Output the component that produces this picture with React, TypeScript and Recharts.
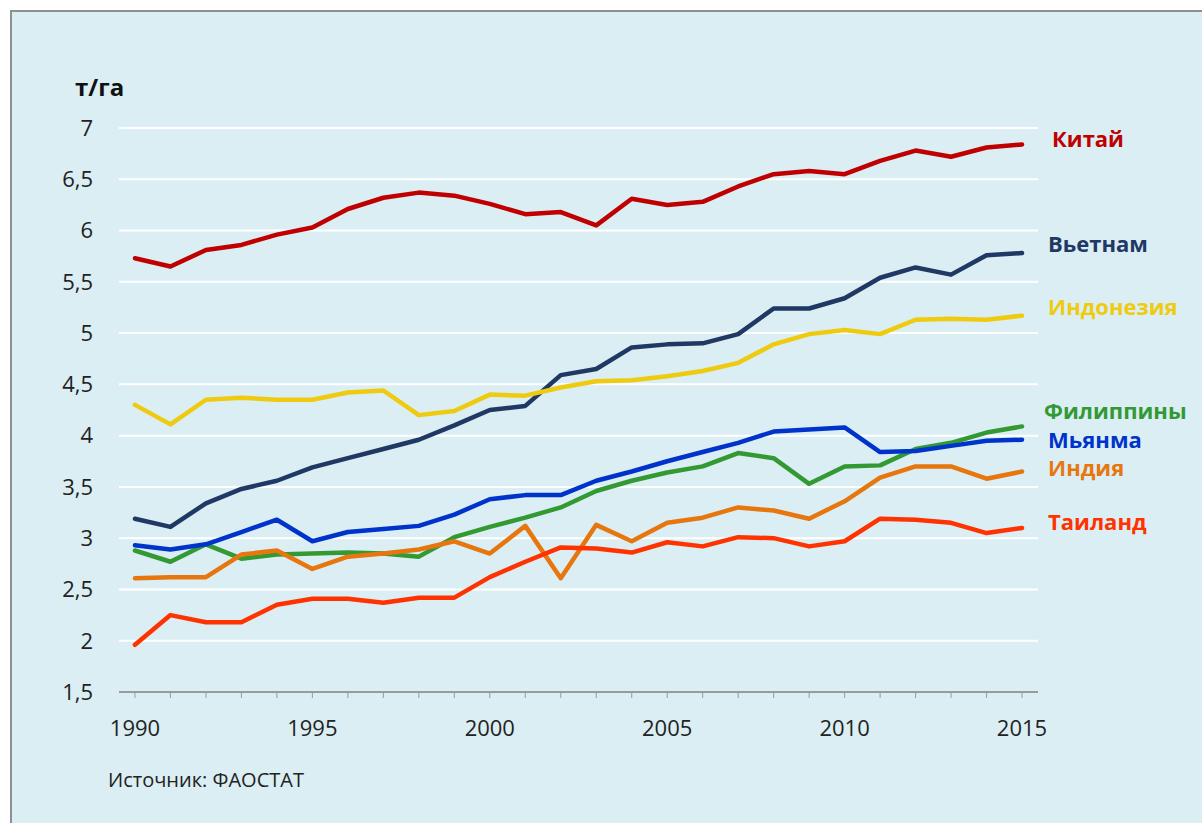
import React from "react";
import { LineChart, Line, XAxis, YAxis, CartesianGrid, LabelList } from "recharts";

const years = [1990,1991,1992,1993,1994,1995,1996,1997,1998,1999,2000,2001,2002,2003,2004,2005,2006,2007,2008,2009,2010,2011,2012,2013,2014,2015];
const china = [5.73,5.65,5.81,5.86,5.96,6.03,6.21,6.32,6.37,6.34,6.26,6.16,6.18,6.05,6.31,6.25,6.28,6.43,6.55,6.58,6.55,6.68,6.78,6.72,6.81,6.84];
const vietnam = [3.19,3.11,3.34,3.48,3.56,3.69,3.78,3.87,3.96,4.10,4.25,4.29,4.59,4.65,4.86,4.89,4.90,4.99,5.24,5.24,5.34,5.54,5.64,5.57,5.76,5.78];
const indonesia = [4.30,4.11,4.35,4.37,4.35,4.35,4.42,4.44,4.20,4.24,4.40,4.39,4.47,4.53,4.54,4.58,4.63,4.71,4.89,4.99,5.03,4.99,5.13,5.14,5.13,5.17];
const philippines = [2.88,2.77,2.94,2.80,2.84,2.85,2.86,2.85,2.82,3.01,3.11,3.20,3.30,3.46,3.56,3.64,3.70,3.83,3.78,3.53,3.70,3.71,3.87,3.93,4.03,4.09];
const myanmar = [2.93,2.89,2.94,3.06,3.18,2.97,3.06,3.09,3.12,3.23,3.38,3.42,3.42,3.56,3.65,3.75,3.84,3.93,4.04,4.06,4.08,3.84,3.85,3.90,3.95,3.96];
const india = [2.61,2.62,2.62,2.84,2.88,2.70,2.82,2.85,2.89,2.97,2.85,3.12,2.61,3.13,2.97,3.15,3.20,3.30,3.27,3.19,3.36,3.59,3.70,3.70,3.58,3.65];
const thailand = [1.96,2.25,2.18,2.18,2.35,2.41,2.41,2.37,2.42,2.42,2.62,2.77,2.91,2.90,2.86,2.96,2.92,3.01,3.00,2.92,2.97,3.19,3.18,3.15,3.05,3.10];

const yTicks = [1.5,2,2.5,3,3.5,4,4.5,5,5.5,6,6.5,7];
const xTickLabels = [1990,1995,2000,2005,2010,2015];

const seriesNames = ["Китай","Вьетнам","Индонезия","Филиппины","Мьянма","Индия","Таиланд"];
const seriesValues = [china, vietnam, indonesia, philippines, myanmar, india, thailand];
const seriesColors = ["#C00000","#1F3864","#EFCB0F","#339933","#0033CC","#E8760E","#FF3300"];
const labelDy = [-5,-9,-8,-15,1,-3,-6];
const labelDx = [30,26,26,22,26,26,26];

const data = years.map((y, i) => {
  const row: any = { year: y };
  seriesNames.forEach((n, k) => { row["s" + k] = seriesValues[k][i]; });
  return row;
});

const FONT = "'Open Sans', 'Liberation Sans', sans-serif";

const makeLabel = (k: number) => (props: any) => {
  const { x, y, index } = props;
  if (index !== years.length - 1) return null;
  return (
    <text x={x + labelDx[k]} y={y + labelDy[k]} dy="0.35em" fill={seriesColors[k]}
      fontFamily={FONT} fontWeight={700} fontSize={22} textAnchor="start">
      {seriesNames[k]}
    </text>
  );
};

const XTick = (props: any) => {
  const { x, y, payload } = props;
  if (!xTickLabels.includes(payload.value)) return null;
  return (
    <text x={x} y={y} dy="0.71em" textAnchor="middle" fill="#222" fontFamily={FONT} fontSize={22}>
      {payload.value}
    </text>
  );
};

export default function App() {
  return (
    <div style={{ position: "absolute", left: 0, top: 0, width: 1202, height: 823, overflow: "hidden", background: "#fff" }}>
      <div style={{ position: "absolute", left: 10, top: 10, width: 1200, height: 820, border: "2px solid #8f8f8f", background: "#DAEEF3" }} />
      <div style={{ position: "absolute", left: 75, top: 72, fontFamily: FONT, fontWeight: 700, fontSize: 24, color: "#111", lineHeight: "30px" }}>т/га</div>
      <div style={{ position: "absolute", left: 108, top: 767, fontFamily: FONT, fontSize: 20, color: "#222", lineHeight: "26px" }}>Источник: ФАОСТАТ</div>
      <div style={{ position: "absolute", left: 0, top: 0 }}>
        <LineChart width={1202} height={823} data={data} margin={{ top: 128, right: 164, bottom: 81, left: 0 }}>
          <CartesianGrid horizontal={true} vertical={false} stroke="#ffffff" strokeWidth={2} />
          <XAxis dataKey="year" type="number" domain={[1989.55, 2015.45]} ticks={years}
            interval={0} height={50} tickSize={6} tickMargin={22}
            axisLine={{ stroke: "#9a9a9a", strokeWidth: 2 }} tickLine={{ stroke: "#9a9a9a", strokeWidth: 1 }}
            tick={<XTick />} allowDataOverflow />
          <YAxis type="number" domain={[1.5, 7]} ticks={yTicks} interval={0} width={119}
            axisLine={false} tickLine={false} tickSize={0} tickMargin={26}
            tickFormatter={(v: number) => String(v).replace(".", ",")}
            tick={{ fill: "#222", fontFamily: FONT, fontSize: 22 }} allowDataOverflow />
          {seriesNames.map((n, k) => (
            <Line key={n} dataKey={"s" + k} name={n} type="linear" stroke={seriesColors[k]} strokeWidth={4.5}
              dot={false} activeDot={false} isAnimationActive={false} strokeLinejoin="round" strokeLinecap="round">
              <LabelList dataKey={"s" + k} content={makeLabel(k)} />
            </Line>
          ))}
        </LineChart>
      </div>
    </div>
  );
}
